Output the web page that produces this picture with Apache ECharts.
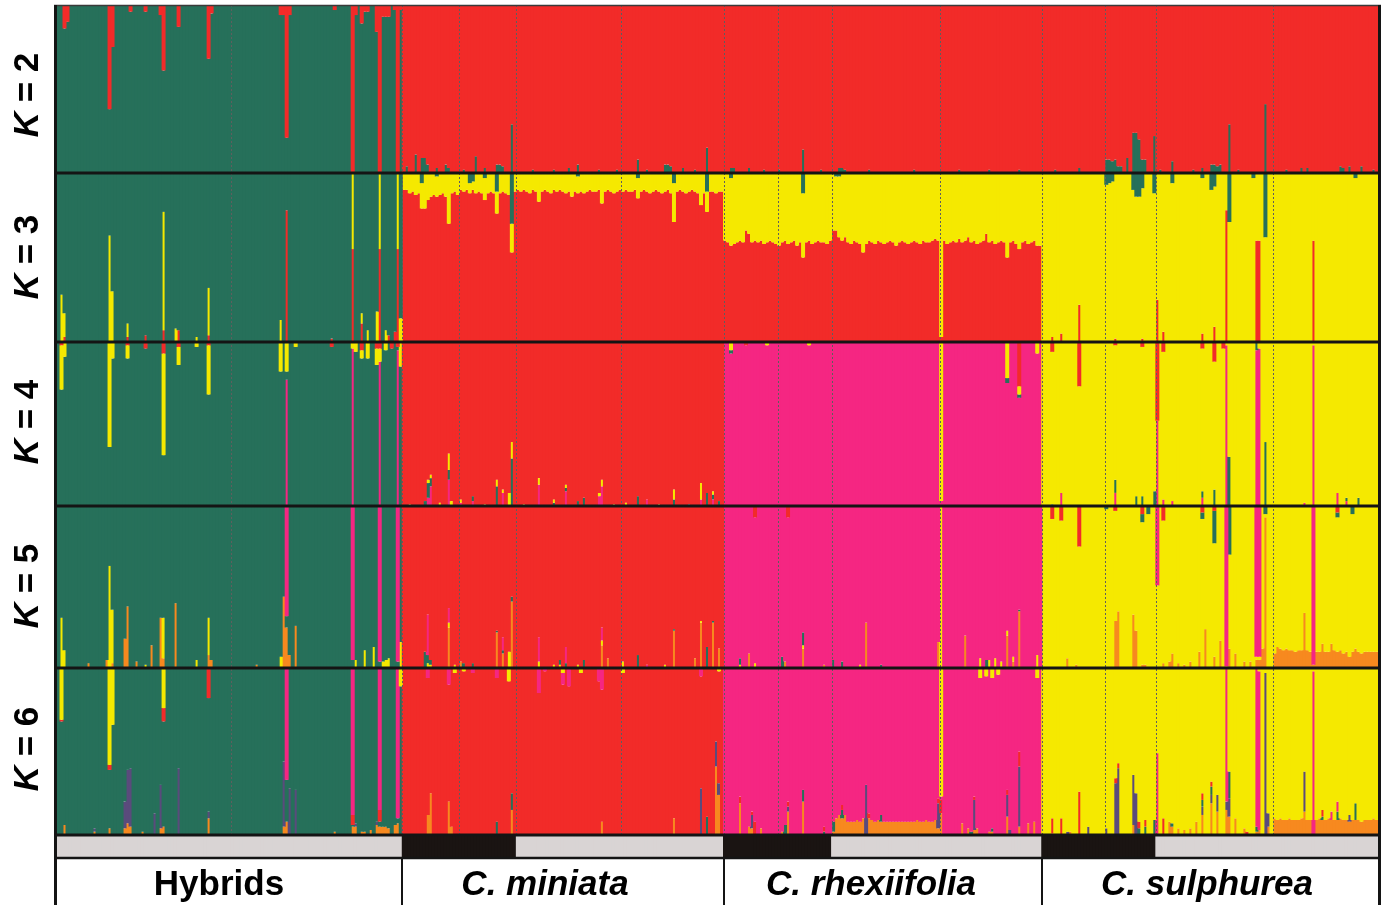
<!DOCTYPE html>
<html><head><meta charset="utf-8">
<script src="https://cdn.jsdelivr.net/npm/echarts@6/dist/echarts.min.js"></script>
<style>html,body{margin:0;padding:0;background:#fff}#c{width:1387px;height:905px}</style>
</head><body><div id="c"></div><script>
// ---------------- DATA ----------------
const N = 440;
const popNames = ['Hybrids', 'C. miniata', 'C. rhexiifolia', 'C. sulphurea'];
const popItalic = [false, true, true, true];
const popSizes = [115, 107, 106, 112];
const subpopStarts = [58, 115, 134, 153, 188, 222, 240, 258, 294, 328, 349, 366, 405];
// sampling strip: [firstIndex, endIndex, type]
const stripSegments = [[0,115,'light'],[115,153,'dark'],[153,222,'light'],[222,258,'dark'],[258,328,'light'],[328,366,'dark'],[366,440,'light']];
const Ks = [2, 3, 4, 5, 6];
// stacking order bottom -> top
const kOrder = {2:['g','r'], 3:['r','y','g'], 4:['p','g','y','r'], 5:['o','y','g','p','r'], 6:['o','v','g','r','p','y']};
// dominant cluster for each population
const kDominant = {2:['g','r','r','r'], 3:['g','r','r','y'], 4:['g','r','p','y'], 5:['g','r','p','y'], 6:['g','r','p','y']};

const k3MiniataYellow = [
 0.10,0.10,0.12,0.11,0.13,0.12,0.15,0.21,0.16,0.14,
 0.13,0.12,0.13,0.12,0.14,0.30,0.12,0.11,0.13,0.10,
 0.11,0.10,0.06,0.05,0.12,0.11,0.12,0.13,0.12,0.11,
 0.12,0.13,0.12,0.11,0.12,0.13,0.17,0.11,0.10,0.11,
 0.10,0.11,0.12,0.10,0.11,0.17,0.11,0.10,0.11,0.12,
 0.10,0.11,0.10,0.11,0.12,0.11,0.14,0.11,0.10,0.11,
 0.12,0.11,0.10,0.11,0.11,0.10,0.18,0.11,0.10,0.11,
 0.12,0.11,0.10,0.11,0.10,0.11,0.11,0.10,0.12,0.11,
 0.10,0.11,0.12,0.11,0.10,0.11,0.12,0.11,0.10,0.12,
 0.23,0.11,0.10,0.11,0.12,0.11,0.10,0.11,0.12,0.19,
 0.12,0.12,0.11,0.11,0.12,0.11,0.11];
const k3RhexYellow = [
 0.40,0.41,0.40,0.42,0.41,0.40,0.41,0.34,0.36,0.41,
 0.40,0.41,0.40,0.42,0.41,0.40,0.41,0.42,0.43,0.41,
 0.40,0.42,0.41,0.40,0.43,0.41,0.38,0.41,0.40,0.42,
 0.41,0.40,0.41,0.41,0.42,0.40,0.34,0.32,0.36,0.40,
 0.38,0.41,0.42,0.40,0.41,0.42,0.47,0.42,0.40,0.41,
 0.42,0.40,0.41,0.42,0.41,0.40,0.41,0.43,0.41,0.40,
 0.41,0.42,0.41,0.40,0.41,0.42,0.40,0.41,0.41,0.40,
 0.39,0.40,0.97,0.40,0.42,0.41,0.40,0.41,0.39,0.41,
 0.40,0.38,0.41,0.40,0.42,0.41,0.40,0.36,0.41,0.40,
 0.42,0.41,0.40,0.41,0.50,0.41,0.40,0.42,0.45,0.41,
 0.40,0.42,0.41,0.40,0.43,0.43];
const k5SulphOrange = [
 0.09,0.13,0.12,0.11,0.12,0.11,0.11,0.10,0.11,0.11,
 0.34,0.11,0.10,0.02,0.10,0.10,0.15,0.10,0.10,0.15,
 0.11,0.10,0.11,0.09,0.10,0.07,0.10,0.12,0.10,0.09,
 0.10,0.10,0.10,0.10,0.10];
const k6RhexOrange = [
 0.02,0.10,0.12,0.10,0.12,0.08,0.08,0.08,0.09,0.08,
 0.10,0.00,0.10,0.09,0.08,0.09,0.08,0.08,0.08,0.08,
 0.08,0.08,0.08,0.08,0.08,0.08,0.08,0.08,0.09,0.08,
 0.08,0.09,0.08,0.08,0.09,0.04];
const k6SulphOrange = [
 0.10,0.09,0.10,0.09,0.09,0.10,0.09,0.09,0.09,0.10,
 0.14,0.09,0.09,0.00,0.09,0.10,0.09,0.09,0.10,0.09,
 0.09,0.09,0.10,0.09,0.09,0.08,0.09,0.09,0.09,0.08,
 0.09,0.09,0.09,0.10,0.09];

// admixture readings: [individual, cluster, proportion]
const k2Mix = [
 [2,'r',0.14],[3,'r',0.10],[17,'r',0.62],[18,'r',0.25],[24,'r',0.04],[29,'r',0.04],[34,'r',0.06],[35,'r',0.39],[40,'r',0.13],[50,'r',0.32],[51,'r',0.05],[74,'r',0.06],[75,'r',0.06],[76,'r',0.79],[77,'r',0.06],[92,'r',0.03],[98,'r',1.0],[99,'r',0.06],[101,'r',0.11],[102,'r',0.04],[103,'r',0.04],[106,'r',0.16],[107,'r',1.0],[108,'r',0.07],[109,'r',0.07],[110,'r',0.07],[112,'r',0.03],[113,'r',1.0],[114,'r',0.03],
 [116,'g',0.04],[119,'g',0.11],[121,'g',0.09],[122,'g',0.09],[123,'g',0.05],[126,'g',0.03],[129,'g',0.05],[130,'g',0.03],[135,'g',0.02],[139,'g',0.10],[142,'g',0.03],[146,'g',0.05],[147,'g',0.05],[148,'g',0.04],[151,'g',0.29],[158,'g',0.02],[165,'g',0.02],[170,'g',0.03],[173,'g',0.05],[180,'g',0.02],[186,'g',0.02],[193,'g',0.08],[196,'g',0.02],[202,'g',0.05],[203,'g',0.05],[204,'g',0.04],[208,'g',0.03],[212,'g',0.02],[216,'g',0.15],
 [224,'g',0.03],[225,'g',0.03],[230,'g',0.03],[235,'g',0.02],[240,'g',0.02],[248,'g',0.14],[254,'g',0.02],[260,'g',0.03],[261,'g',0.03],[262,'g',0.02],[270,'g',0.02],[285,'g',0.02],[300,'g',0.02],[310,'g',0.02],[320,'g',0.02],
 [332,'g',0.02],[340,'g',0.03],[349,'g',0.08],[350,'g',0.08],[351,'g',0.07],[352,'g',0.08],[353,'g',0.04],[354,'g',0.04],[356,'g',0.09],[358,'g',0.24],[359,'g',0.24],[360,'g',0.20],[361,'g',0.08],[362,'g',0.08],[365,'g',0.22],[367,'g',0.02],[371,'g',0.07],[378,'g',0.02],[381,'g',0.03],[384,'g',0.05],[385,'g',0.05],[386,'g',0.04],[387,'g',0.05],[390,'g',0.29],[393,'g',0.02],[402,'g',0.41],[409,'g',0.02],[414,'g',0.03],[416,'g',0.03],[427,'g',0.04],[428,'g',0.03],[430,'g',0.04],[434,'g',0.04],[438,'g',0.02]
];
const k3Mix = [
 [1,'y',0.28],[2,'y',0.14],[2,'r',0.03],[17,'y',0.63],[18,'y',0.30],[23,'y',0.08],[23,'r',0.03],[29,'r',0.04],[35,'y',0.70],[35,'r',0.07],[39,'y',0.08],[40,'r',0.07],[46,'y',0.03],[50,'y',0.28],[50,'r',0.04],[74,'y',0.13],[76,'r',0.78],[91,'r',0.02],[98,'r',0.55],[98,'y',0.45],[101,'y',0.06],[101,'r',0.11],[103,'y',0.07],[106,'y',0.18],[107,'r',0.55],[107,'y',0.45],[109,'y',0.07],[110,'r',0.04],[112,'r',0.06],[113,'r',0.55],[113,'y',0.45],[114,'y',0.14],
 [121,'g',0.06],[137,'g',0.06],[138,'g',0.05],[146,'g',0.11],[151,'g',0.30],[205,'g',0.06],[216,'g',0.11],[126,'g',0.02],[142,'g',0.03],[173,'g',0.02],[193,'g',0.03],
 [224,'g',0.03],[248,'g',0.12],[259,'g',0.02],[260,'g',0.02],
 [349,'g',0.07],[350,'g',0.06],[351,'g',0.05],[358,'g',0.10],[359,'g',0.14],[360,'g',0.14],[361,'g',0.09],[365,'g',0.12],[371,'g',0.06],[381,'g',0.03],[384,'g',0.10],[385,'g',0.08],[390,'g',0.29],[398,'g',0.03],[402,'g',0.38],[432,'g',0.03],
 [331,'r',0.03],[334,'r',0.05],[340,'r',0.22],[352,'r',0.02],[361,'r',0.02],[366,'r',0.25],[368,'r',0.06],[381,'r',0.05],[385,'r',0.09],[389,'r',0.78],[399,'r',0.60],[400,'r',0.60],[418,'r',0.60]
];
const k4Mix = [
 [1,'y',0.27],[1,'r',0.02],[2,'y',0.09],[17,'y',0.64],[18,'y',0.10],[23,'y',0.08],[23,'r',0.02],[29,'r',0.04],[35,'r',0.07],[35,'y',0.62],[40,'r',0.03],[40,'y',0.11],[46,'y',0.03],[50,'r',0.02],[50,'y',0.30],[74,'y',0.18],[76,'y',0.18],[76,'p',0.77],[79,'y',0.03],[91,'r',0.03],[98,'y',0.04],[98,'p',0.96],[99,'y',0.06],[101,'r',0.05],[101,'y',0.05],[103,'y',0.10],[106,'y',0.10],[106,'r',0.04],[107,'r',0.04],[107,'y',0.08],[107,'p',0.88],[109,'y',0.05],[111,'r',0.04],[113,'r',0.03],[113,'p',0.95],[114,'y',0.15],
 [122,'g',0.03],[123,'p',0.05],[123,'g',0.09],[123,'y',0.02],[124,'p',0.12],[124,'g',0.05],[124,'y',0.02],[130,'p',0.16],[130,'g',0.06],[130,'y',0.10],[131,'y',0.03],[134,'p',0.02],[134,'y',0.02],[138,'g',0.03],[138,'p',0.03],[146,'g',0.12],[146,'y',0.04],[148,'p',0.08],[148,'y',0.02],[150,'y',0.08],[151,'g',0.29],[151,'y',0.10],[160,'p',0.13],[160,'y',0.04],[165,'g',0.02],[165,'y',0.02],[169,'p',0.09],[169,'g',0.02],[169,'y',0.02],[173,'g',0.03],[175,'g',0.05],[180,'p',0.06],[180,'y',0.02],[181,'p',0.12],[181,'y',0.04],[189,'y',0.02],[193,'g',0.06],[196,'p',0.04],[205,'y',0.06],[205,'g',0.04],[214,'y',0.10],[214,'p',0.04],[216,'g',0.08],[218,'y',0.02],[218,'g',0.03],[218,'p',0.04],[220,'g',0.03],
 [117,'y',0.01],[127,'y',0.02],[142,'y',0.01],[155,'y',0.01],[185,'y',0.01],[200,'y',0.01],[210,'g',0.01],
 [224,'y',0.05],[224,'g',0.02],[229,'r',0.02],[236,'y',0.02],[250,'y',0.02],[294,'y',0.97],[316,'y',0.22],[316,'g',0.03],[320,'r',0.27],[320,'y',0.05],[320,'g',0.02],[326,'y',0.07],
 [331,'r',0.06],[340,'r',0.27],[352,'r',0.02],[361,'r',0.03],[366,'r',0.48],[368,'r',0.06],[381,'r',0.04],[385,'r',0.12],[388,'r',0.04],
 [334,'p',0.08],[352,'p',0.08],[366,'p',0.52],[368,'p',0.04],[371,'p',0.03],[381,'p',0.05],[389,'p',0.98],[399,'p',0.95],[400,'p',0.96],[418,'p',0.98],[415,'p',0.02],[426,'p',0.08],[429,'p',0.03],
 [331,'g',0.01],[352,'g',0.08],[359,'g',0.06],[361,'g',0.06],[365,'g',0.09],[381,'g',0.04],[385,'g',0.10],[390,'g',0.30],[399,'g',0.05],[402,'g',0.39],[429,'g',0.02],[433,'g',0.05]
];
const k5Mix = [
 [1,'y',0.31],[2,'y',0.11],[10,'o',0.03],[16,'o',0.05],[17,'y',0.63],[18,'y',0.33],[18,'o',0.03],[22,'o',0.18],[23,'o',0.38],[26,'o',0.04],[29,'y',0.02],[31,'o',0.14],[34,'o',0.31],[35,'y',0.25],[35,'o',0.06],[39,'o',0.40],[46,'y',0.05],[50,'y',0.23],[50,'o',0.08],[51,'o',0.05],[66,'o',0.02],[74,'y',0.07],[75,'o',0.44],[76,'p',0.68],[76,'o',0.25],[77,'o',0.08],[79,'o',0.26],[98,'p',0.95],[99,'y',0.05],[102,'y',0.11],[105,'y',0.13],[107,'p',0.96],[108,'y',0.04],[109,'y',0.05],[110,'y',0.06],[113,'p',0.96],[114,'y',0.16],
 [122,'g',0.10],[123,'p',0.25],[123,'g',0.05],[123,'y',0.03],[124,'g',0.03],[124,'y',0.02],[130,'o',0.25],[130,'y',0.03],[130,'p',0.09],[132,'y',0.02],[134,'o',0.04],[135,'g',0.03],[138,'g',0.03],[146,'o',0.22],[146,'g',0.01],[148,'o',0.09],[148,'g',0.02],[148,'p',0.08],[150,'y',0.10],[151,'o',0.41],[151,'g',0.03],[160,'y',0.04],[160,'p',0.15],[165,'y',0.02],[167,'g',0.03],[167,'y',0.02],[169,'p',0.10],[169,'g',0.03],[173,'y',0.02],[175,'g',0.05],[181,'o',0.14],[181,'y',0.03],[181,'p',0.08],[183,'o',0.06],[188,'y',0.04],[193,'g',0.08],[196,'p',0.02],[202,'y',0.02],[205,'o',0.23],[205,'g',0.01],[212,'o',0.06],[214,'o',0.28],[214,'y',0.01],[216,'g',0.13],[218,'o',0.28],[218,'g',0.01],[220,'o',0.12],
 [227,'g',0.04],[227,'y',0.02],[230,'o',0.09],[232,'y',0.03],[232,'r',0.07],[241,'g',0.07],[242,'o',0.04],[243,'r',0.07],[248,'o',0.12],[248,'y',0.02],[248,'g',0.08],[255,'o',0.02],[258,'g',0.05],[261,'g',0.04],[267,'y',0.02],[269,'o',0.28],[274,'g',0.02],[293,'o',0.16],[294,'y',1.0],[302,'o',0.20],[307,'y',0.06],[309,'g',0.05],[310,'y',0.05],[312,'y',0.06],[314,'y',0.04],[316,'o',0.20],[316,'y',0.03],[318,'o',0.04],[318,'y',0.03],[320,'o',0.35],[320,'g',0.01],[326,'y',0.08],
 [331,'r',0.08],[334,'r',0.09],[340,'r',0.25],[352,'r',0.03],[361,'r',0.05],[368,'r',0.09],[381,'r',0.04],[385,'r',0.03],[426,'r',0.04],
 [349,'g',0.02],[361,'g',0.05],[363,'g',0.05],[381,'g',0.04],[385,'g',0.20],[390,'g',0.30],[402,'g',0.05],[426,'g',0.03],[431,'g',0.05],
 [366,'p',0.49],[389,'p',0.99],[399,'p',0.93],[400,'p',0.93],[418,'p',0.98],
 [336,'o',0.06],[339,'o',0.02],[352,'o',0.29],[353,'o',0.35],[358,'o',0.33],[359,'o',0.23],[361,'o',0.02],[362,'o',0.02],[368,'o',0.03],[370,'o',0.04],[371,'o',0.09],[373,'o',0.03],[375,'o',0.02],[377,'o',0.04],[380,'o',0.10],[382,'o',0.24],[385,'o',0.07],[387,'o',0.17],[390,'o',0.12],[392,'o',0.09],[395,'o',0.04],[397,'o',0.04],[399,'o',0.05],[400,'o',0.05],[401,'o',0.12],[402,'o',0.93]
];
const k6Mix = [
 [1,'y',0.31],[1,'r',0.01],[2,'o',0.06],[12,'v',0.02],[12,'o',0.02],[17,'y',0.58],[17,'r',0.03],[17,'o',0.04],[18,'y',0.34],[22,'v',0.16],[22,'o',0.04],[23,'v',0.32],[23,'o',0.07],[24,'v',0.35],[24,'o',0.05],[28,'o',0.02],[32,'v',0.13],[34,'v',0.26],[34,'o',0.04],[35,'y',0.24],[35,'r',0.08],[35,'o',0.05],[40,'v',0.40],[50,'r',0.18],[50,'v',0.04],[50,'o',0.10],[75,'v',0.39],[75,'o',0.05],[76,'p',0.67],[76,'o',0.08],[77,'v',0.28],[79,'v',0.27],[92,'o',0.02],[98,'p',0.88],[98,'r',0.06],[98,'o',0.05],[99,'o',0.05],[99,'v',0.02],[101,'o',0.02],[102,'o',0.02],[104,'o',0.03],[106,'o',0.06],[106,'v',0.02],[107,'p',0.85],[107,'r',0.07],[107,'o',0.05],[108,'o',0.05],[109,'o',0.05],[110,'o',0.04],[112,'o',0.06],[113,'p',0.90],[113,'o',0.07],[114,'y',0.11],
 [123,'p',0.06],[130,'p',0.10],[132,'y',0.03],[135,'y',0.02],[138,'p',0.03],[146,'p',0.06],[150,'y',0.08],[160,'p',0.15],[162,'p',0.02],[168,'y',0.03],[168,'p',0.07],[170,'p',0.11],[174,'y',0.03],[180,'p',0.08],[181,'p',0.13],[188,'y',0.03],[214,'p',0.05],[220,'y',0.02],
 [123,'o',0.12],[124,'o',0.25],[130,'o',0.20],[131,'o',0.05],[146,'g',0.08],[151,'o',0.15],[151,'g',0.10],[181,'o',0.08],[205,'o',0.10],[214,'v',0.28],[216,'g',0.11],[219,'v',0.15],[219,'o',0.41],[220,'v',0.07],[220,'o',0.24],
 [227,'o',0.19],[227,'r',0.04],[230,'o',0.05],[231,'v',0.08],[231,'o',0.04],[231,'r',0.02],[232,'r',0.08],[234,'o',0.04],[241,'o',0.02],[242,'g',0.06],[243,'o',0.14],[243,'v',0.03],[243,'r',0.03],[248,'g',0.07],[248,'o',0.20],[255,'r',0.03],[255,'g',0.02],
 [258,'g',0.06],[261,'g',0.05],[261,'r',0.03],[269,'v',0.30],[270,'r',0.03],[274,'g',0.04],[293,'v',0.15],[293,'r',0.03],
 [294,'y',0.77],[294,'r',0.08],[294,'o',0.13],[301,'o',0.07],[303,'o',0.04],[304,'g',0.02],[305,'v',0.18],[305,'r',0.02],[305,'o',0.03],[306,'o',0.04],[310,'o',0.02],[311,'g',0.02],[311,'o',0.02],[316,'v',0.13],[316,'r',0.03],[316,'o',0.11],[317,'v',0.03],[320,'v',0.36],[320,'r',0.09],[320,'o',0.05],[323,'o',0.07],[325,'o',0.08],
 [307,'y',0.06],[309,'y',0.05],[311,'y',0.06],[313,'y',0.04],[326,'y',0.06],
 [331,'r',0.09],[331,'o',0.01],[334,'r',0.10],[336,'v',0.02],[337,'o',0.02],[340,'r',0.26],[343,'v',0.05],[349,'v',0.04],[352,'v',0.31],[352,'r',0.03],[353,'v',0.40],[353,'r',0.03],[358,'v',0.30],[358,'o',0.06],[359,'v',0.25],[360,'r',0.04],[360,'g',0.04],[362,'g',0.05],[362,'r',0.04],[365,'g',0.09],[366,'p',0.49],[368,'r',0.10],[370,'o',0.08],[371,'o',0.05],[371,'g',0.02],[373,'o',0.04],[375,'o',0.03],[377,'o',0.04],[379,'o',0.08],[381,'o',0.12],[381,'g',0.04],[381,'v',0.05],[381,'r',0.04],[384,'o',0.19],[384,'g',0.05],[384,'v',0.05],[384,'r',0.03],[386,'o',0.14],[386,'v',0.10],[389,'p',0.80],[389,'o',0.15],[389,'v',0.05],[390,'g',0.16],[390,'v',0.11],[390,'o',0.11],[392,'o',0.10],[395,'o',0.04],[396,'r',0.02],[399,'p',0.95],[399,'g',0.03],[399,'o',0.02],[400,'p',0.95],[400,'o',0.03],[402,'v',0.97],[403,'v',0.08],[403,'o',0.05],
 [415,'v',0.24],[418,'p',0.98],[421,'r',0.04],[421,'g',0.02],[424,'p',0.05],[426,'p',0.06],[426,'g',0.05],[430,'v',0.04],[432,'g',0.10]
];
const kMix = {2:k2Mix, 3:k3Mix, 4:k4Mix, 5:k5Mix, 6:k6Mix};
const kBlocks = {
 3:[{c:'y', start:115, values:k3MiniataYellow}, {c:'y', start:222, values:k3RhexYellow}],
 5:[{c:'o', start:405, values:k5SulphOrange}],
 6:[{c:'o', start:258, values:k6RhexOrange}, {c:'o', start:405, values:k6SulphOrange}]
};

// ---------------- STYLE / LAYOUT ----------------
const clusterColors = {g:'#26705A', r:'#F22B29', y:'#F5E900', p:'#F52682', o:'#F7891F', v:'#5A4B7C'};
const stripColors = {light:'#D9D4D4', dark:'#1A1412'};
const PLOT_L = 57, PLOT_R = 1378;
const panelEdges = [5, 173, 342, 506, 668, 835];
const STRIP_BOTTOM = 857, FOOT_BOTTOM = 905;
const kLabelY = [95, 257, 422, 586, 749];
const popLabelX = [219, 545, 871, 1207];
const FONT = '"Liberation Sans", Arial, sans-serif';

const popStarts = [0];
popSizes.forEach(s => popStarts.push(popStarts[popStarts.length - 1] + s));
const popOf = i => { for (let p = 0; p < popSizes.length; p++) if (i < popStarts[p + 1]) return p; return popSizes.length - 1; };

function buildK(k) {
  const rows = [];
  for (let i = 0; i < N; i++) rows.push({});
  (kBlocks[k] || []).forEach(b => b.values.forEach((v, j) => { rows[b.start + j][b.c] = v; }));
  kMix[k].forEach(([i, c, v]) => { rows[i][c] = v; });
  rows.forEach((row, i) => {
    const d = kDominant[k][popOf(i)];
    let s = 0;
    for (const c in row) if (c !== d) s += row[c];
    if (s > 1) { for (const c in row) if (c !== d) row[c] /= s; s = 1; }
    row[d] = 1 - s;
  });
  return kOrder[k].map(c => rows.map(r => (r[c] && r[c] > 0.001) ? r[c] : '-'));
}

const cats = Array.from({length: N}, (_, i) => i);
const grids = [], xAxes = [], yAxes = [], series = [];
Ks.forEach((k, gi) => {
  grids.push({left: PLOT_L, width: PLOT_R - PLOT_L, top: panelEdges[gi], height: panelEdges[gi + 1] - panelEdges[gi]});
  xAxes.push({type: 'category', gridIndex: gi, data: cats, show: false, boundaryGap: true});
  yAxes.push({type: 'value', gridIndex: gi, min: 0, max: 1, show: false});
  const cols = buildK(k);
  kOrder[k].forEach((c, ci) => {
    series.push({
      type: 'bar', xAxisIndex: gi, yAxisIndex: gi, stack: 'K' + k, data: cols[ci],
      barCategoryGap: '0%', barWidth: 4, silent: true,
      itemStyle: {color: clusterColors[c]}
    });
  });
});
// sampling strip
const gs = Ks.length;
grids.push({left: PLOT_L, width: PLOT_R - PLOT_L, top: panelEdges[5], height: STRIP_BOTTOM - panelEdges[5]});
xAxes.push({type: 'category', gridIndex: gs, data: cats, show: false});
yAxes.push({type: 'value', gridIndex: gs, min: 0, max: 1, show: false});
const stripData = cats.map(i => {
  const seg = stripSegments.find(s => i >= s[0] && i < s[1]);
  return {value: 1, itemStyle: {color: stripColors[seg[2]]}};
});
series.push({type: 'bar', xAxisIndex: gs, yAxisIndex: gs, data: stripData, barCategoryGap: '0%', barWidth: 4, silent: true});

const chart = echarts.init(document.getElementById('c'), null, {renderer: 'canvas'});
chart.setOption({animation: false, grid: grids, xAxis: xAxes, yAxis: yAxes, series: series});

// decorations positioned from the axis scale
const px = i => chart.convertToPixel({xAxisIndex: 0}, i);
const edgeX = i => (px(i - 1) + px(i)) / 2;
const g = [];
subpopStarts.forEach(i => {
  const x = Math.round(edgeX(i)) + 0.5;
  g.push({type: 'line', z: 50, shape: {x1: x, y1: panelEdges[0], x2: x, y2: panelEdges[5]}, style: {stroke: '#5e5e5e', lineWidth: 1, lineDash: [2, 2]}});
});
g.push({type: 'line', z: 60, shape: {x1: PLOT_L - 3, y1: panelEdges[0] + 0.5, x2: PLOT_R + 3, y2: panelEdges[0] + 0.5}, style: {stroke: '#3a3a3a', lineWidth: 1.5}});
for (let j = 1; j < panelEdges.length; j++) {
  g.push({type: 'line', z: 60, shape: {x1: PLOT_L - 3, y1: panelEdges[j], x2: PLOT_R + 3, y2: panelEdges[j]}, style: {stroke: '#141414', lineWidth: 3}});
}
g.push({type: 'line', z: 60, shape: {x1: PLOT_L - 3, y1: STRIP_BOTTOM + 1, x2: PLOT_R + 3, y2: STRIP_BOTTOM + 1}, style: {stroke: '#141414', lineWidth: 2.5}});
g.push({type: 'line', z: 60, shape: {x1: PLOT_L - 1.5, y1: panelEdges[0], x2: PLOT_L - 1.5, y2: FOOT_BOTTOM}, style: {stroke: '#141414', lineWidth: 3}});
g.push({type: 'line', z: 60, shape: {x1: PLOT_R + 1.5, y1: panelEdges[0], x2: PLOT_R + 1.5, y2: FOOT_BOTTOM}, style: {stroke: '#141414', lineWidth: 3}});
for (let p = 1; p < popStarts.length - 1; p++) {
  const x = Math.round(edgeX(popStarts[p]));
  g.push({type: 'line', z: 60, shape: {x1: x, y1: STRIP_BOTTOM, x2: x, y2: FOOT_BOTTOM}, style: {stroke: '#141414', lineWidth: 2}});
}
Ks.forEach((k, gi) => {
  g.push({type: 'text', z: 70, x: 28, y: kLabelY[gi], rotation: Math.PI / 2,
    style: {text: '{i|K} = ' + k, fontSize: 35, fontWeight: 'bold', fontFamily: FONT, fill: '#000', align: 'center', verticalAlign: 'middle',
      rich: {i: {fontStyle: 'italic', fontWeight: 'bold', fontSize: 35, fontFamily: FONT, fill: '#000'}}}});
});
popNames.forEach((name, p) => {
  g.push({type: 'text', z: 70, x: popLabelX[p], y: 885,
    style: {text: name, fontSize: 35, fontWeight: 'bold', fontStyle: popItalic[p] ? 'italic' : 'normal', fontFamily: FONT, fill: '#000', align: 'center', verticalAlign: 'middle'}});
});
chart.setOption({graphic: g});
</script></body></html>
